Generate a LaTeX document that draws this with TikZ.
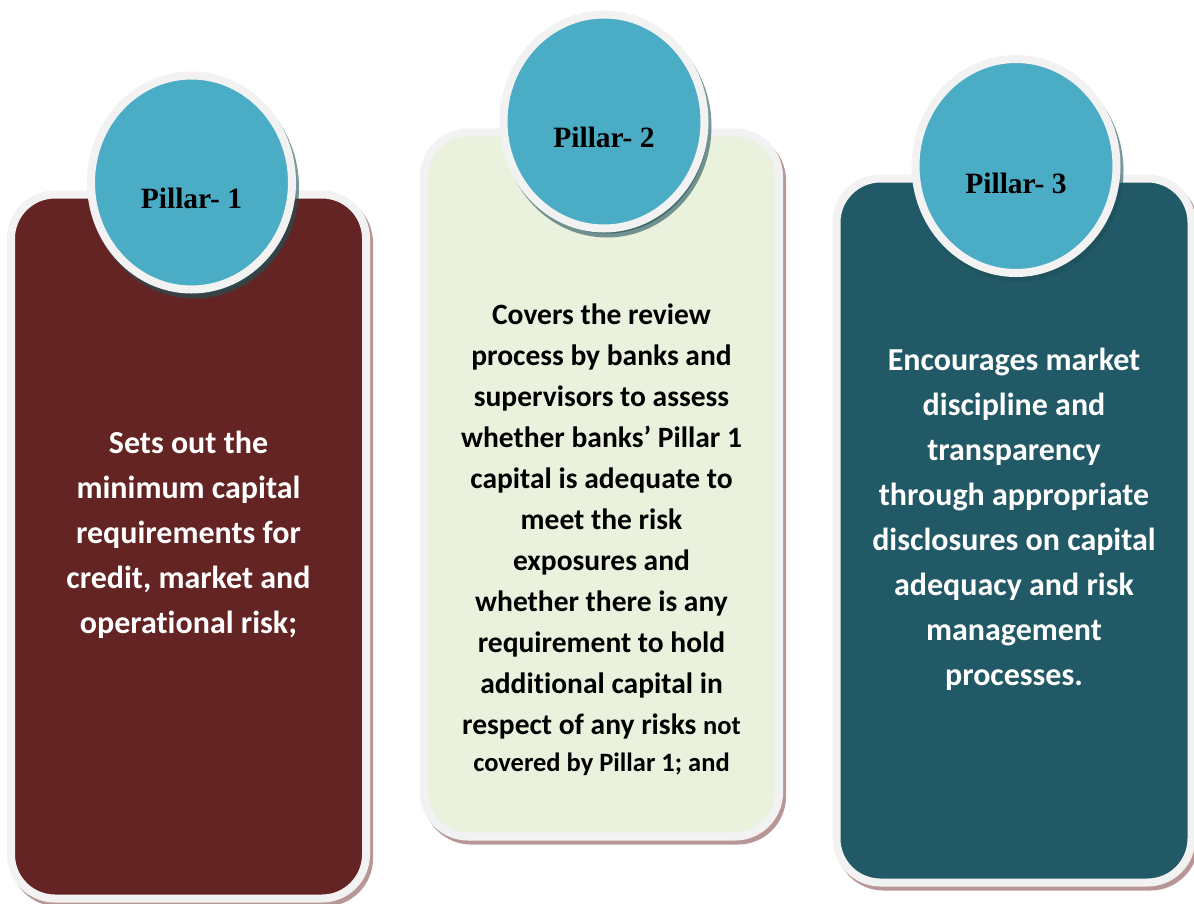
\documentclass[tikz,border=0pt]{standalone}
\usepackage{fontspec}
\setmainfont{Carlito}[Ligatures=NoCommon]
\newfontfamily\pillarfont{Liberation Serif}
\usetikzlibrary{shapes.geometric,shadows}

\definecolor{pillarred}{RGB}{99,36,35}
\definecolor{pillargreen}{RGB}{234,241,221}
\definecolor{pillarteal}{RGB}{33,89,103}
\definecolor{circblue}{RGB}{75,172,198}
\definecolor{rimgrey}{RGB}{242,242,242}
\definecolor{boxshade}{RGB}{185,150,150}
\definecolor{circshade}{RGB}{31,81,88}

\begin{document}
\begin{tikzpicture}[x=1pt, y=-1pt,
  pbox/.style={draw=rimgrey, line width=8pt, rounded corners=44pt, minimum width=355pt, minimum height=704pt, inner sep=0pt,
    drop shadow={shadow xshift=3pt, shadow yshift=-4pt, opacity=1, fill=boxshade, draw=boxshade, line width=8pt}},
  pcirc/.style={ellipse, draw=rimgrey, line width=8pt, fill=circblue, minimum width=201pt, minimum height=214pt, inner sep=0pt,
    drop shadow={shadow xshift=3pt, shadow yshift=-5pt, opacity=.6, fill=circshade, draw=circshade, line width=8pt}},
  ptitle/.style={inner sep=0pt, font=\pillarfont\bfseries\fontsize{29.5}{34}\selectfont},
  ptext/.style={align=center, inner sep=0pt, anchor=base, font=\bfseries\fontsize{32}{45}\selectfont}]
  \useasboundingbox (0,0) rectangle (1194,903);
  % the three boxes
  \node[pbox, fill=pillarred] (b1) at (188.5,546.5) {};
  \node[pbox, fill=pillargreen] (b2) at (601.5,484.5) {};
  \node[pbox, fill=pillarteal] (b3) at (1014,530.5) {};
  % circles on top
  \node[pcirc] (c1) at (191.5,182.5) {};
  \node[pcirc] (c2) at (604,121.5) {};
  \node[pcirc] (c3) at (1016,166) {};
  \node[ptitle] (p1) at ([yshift=-16pt]c1.center) {Pillar- 1};
  \node[ptitle] (p2) at ([yshift=-16pt]c2.center) {Pillar- 2};
  \node[ptitle] (p3) at ([yshift=-17pt]c3.center) {Pillar- 3};
  % texts (anchored at the last baseline)
  \node[ptext, text=white] (t1) at (188.5,633) {Sets out the\\ minimum capital\\ requirements for\\ credit, market and\\ operational risk;};
  \node[ptext, font=\bfseries\fontsize{29.5}{41}\selectfont] (t2) at (601.5,771) {Covers the review\\ process by banks and\\ supervisors to assess\\ whether banks’ Pillar 1\\ capital is adequate to\\ meet the risk\\ exposures and\\ whether there is any\\ requirement to hold\\ additional capital in\\ respect of any risks {\fontsize{26.5}{38}\selectfont not}\\[-4pt] {\fontsize{26.5}{38}\selectfont covered by Pillar 1; and}};
  \node[ptext, text=white] (t3) at (1014,685) {Encourages market\\ discipline and\\ transparency\\ through appropriate\\ disclosures on capital\\ adequacy and risk\\ management\\ processes.};
\end{tikzpicture}
\end{document}
